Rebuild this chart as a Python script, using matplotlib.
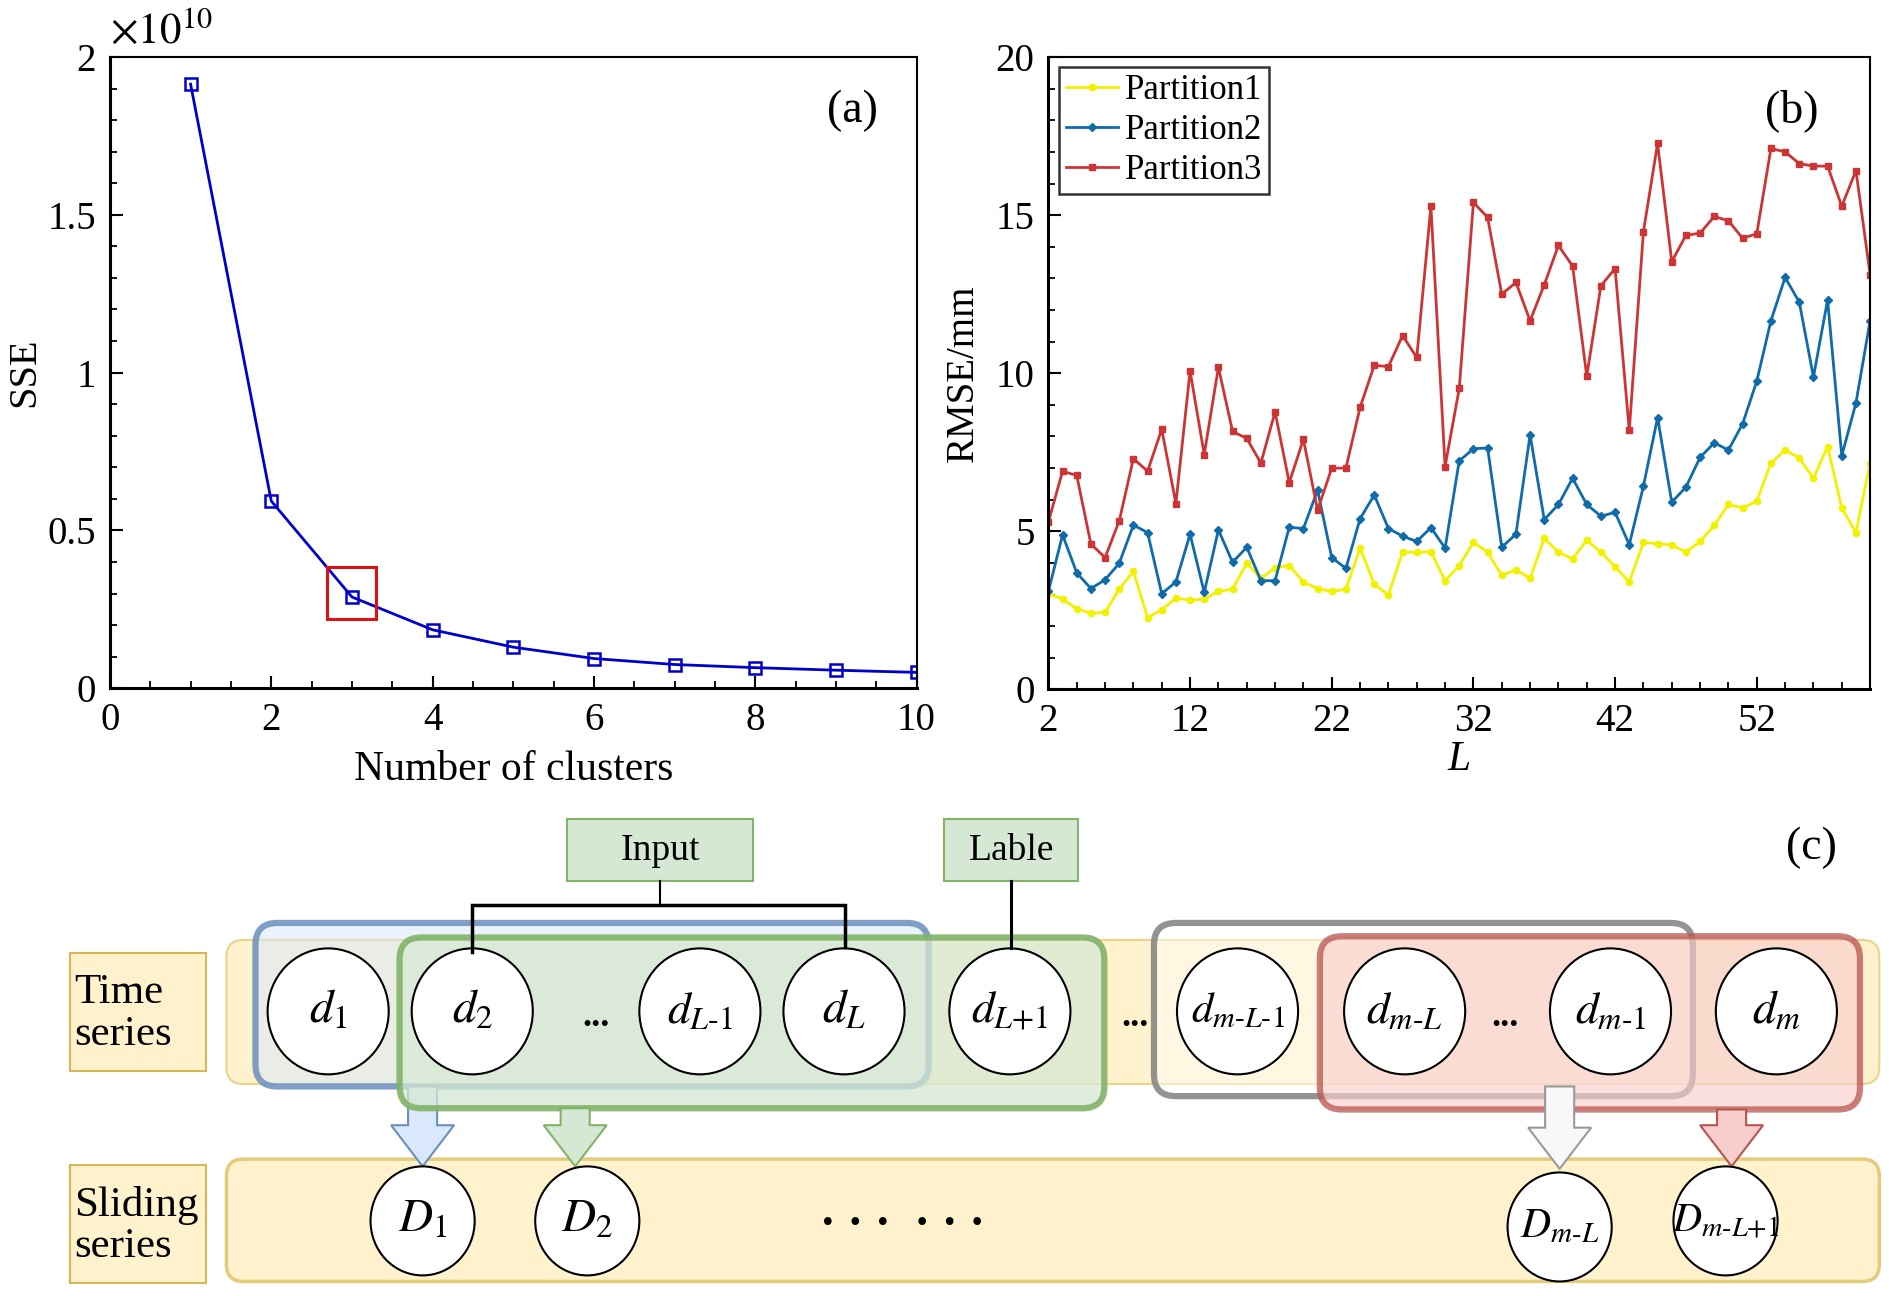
import matplotlib
matplotlib.use("Agg")
import matplotlib.pyplot as plt
from matplotlib.patches import Rectangle, FancyBboxPatch, Ellipse, Polygon
from matplotlib.ticker import MultipleLocator, FuncFormatter

plt.rcParams['font.family'] = ['Liberation Serif', 'DejaVu Serif']
plt.rcParams['mathtext.fontset'] = 'stix'

# ---------------- data ----------------
clusters = [1, 2, 3, 4, 5, 6, 7, 8, 9, 10]
sse = [1.914e10, 0.593e10, 0.289e10, 0.185e10, 0.130e10, 0.094e10,
       0.075e10, 0.065e10, 0.057e10, 0.050e10]
elbow_box = (2.69, 0.218e10, 3.30, 0.384e10)   # x0, y0, x1, y1

L = list(range(2, 61))
partition1 = [3.03, 2.86, 2.55, 2.41, 2.44, 3.17, 3.74, 2.27, 2.52, 2.89,
              2.82, 2.86, 3.10, 3.17, 3.99, 3.51, 3.85, 3.92, 3.40, 3.19,
              3.10, 3.17, 4.47, 3.33, 2.99, 4.34, 4.34, 4.36, 3.44, 3.92,
              4.65, 4.34, 3.61, 3.79, 3.51, 4.78, 4.34, 4.13, 4.72, 4.34,
              3.88, 3.40, 4.65, 4.61, 4.57, 4.34, 4.68, 5.19, 5.85, 5.74,
              5.96, 7.16, 7.57, 7.32, 6.68, 7.68, 5.74, 4.96, 7.16]
partition2 = [3.10, 4.89, 3.69, 3.19, 3.47, 3.99, 5.20, 4.96, 3.03, 3.40,
              4.91, 3.07, 5.05, 4.02, 4.50, 3.44, 3.44, 5.13, 5.09, 6.30,
              4.17, 3.83, 5.40, 6.15, 5.09, 4.85, 4.68, 5.12, 4.47, 7.23,
              7.61, 7.64, 4.50, 4.91, 8.05, 5.37, 5.85, 6.68, 5.85, 5.48,
              5.60, 4.58, 6.43, 8.60, 5.92, 6.40, 7.34, 7.80, 7.57, 8.40,
              9.75, 11.66, 13.03, 12.25, 9.88, 12.32, 7.39, 9.06, 11.66]
partition3 = [5.30, 6.90, 6.77, 4.60, 4.17, 5.33, 7.30, 6.90, 8.23, 5.88,
              10.07, 7.43, 10.19, 8.16, 7.94, 7.16, 8.78, 6.54, 7.91, 5.67,
              7.00, 7.00, 8.92, 10.25, 10.21, 11.19, 10.50, 15.28, 7.05, 9.52,
              15.40, 14.93, 12.50, 12.87, 11.66, 12.80, 14.04, 13.39, 9.91, 12.77,
              13.31, 8.19, 14.48, 17.27, 13.53, 14.36, 14.43, 14.96, 14.82, 14.27,
              14.41, 17.11, 17.00, 16.63, 16.55, 16.55, 15.28, 16.41, 13.12]
series_names = ['Partition1', 'Partition2', 'Partition3']

top_labels = [r'$d_{1}$', r'$d_{2}$', r'$d_{L\text{-}1}$', r'$d_{L}$', r'$d_{L\text{+}1}$',
              r'$d_{m\text{-}L\text{-}1}$', r'$d_{m\text{-}L}$', r'$d_{m\text{-}1}$', r'$d_{m}$']
bottom_labels = [r'$D_{1}$', r'$D_{2}$', r'$D_{m\text{-}L}$', r'$D_{m\text{-}L\text{+}1}$']

FS = 28

fig = plt.figure(figsize=(18.89, 12.96), dpi=100)

# ---------------- panel (c) diagram (drawn in a canvas-like axes) ----------------
axc = fig.add_axes([0, 0, 1, 1], zorder=0)
axc.set_xlim(0, 1560)
axc.set_ylim(1070, 0)
axc.axis('off')

def rbox(x, y, w, h, fc, ec, lw, alpha_fc=1.0, r=12, z=1):
    p = FancyBboxPatch((x, y), w, h, boxstyle=f"round,pad=0,rounding_size={r}",
                       fc=matplotlib.colors.to_rgba(fc, alpha_fc), ec=ec, lw=lw, zorder=z)
    axc.add_patch(p)

# label boxes
for (y0, txt) in [(787, 'Time\nseries'), (962, 'Sliding\nseries')]:
    axc.add_patch(Rectangle((58, y0), 112, 97, fc='#fff2cc', ec='#d6b656', lw=1.5, zorder=1))
    axc.text(61, y0 + 50, txt, fontsize=31, ha='left', va='center', linespacing=1.1, zorder=2)

# yellow bands
rbox(187, 776, 1365, 119, '#fff2cc', '#e8d48c', 1.5, r=14, z=1)
rbox(187, 957, 1365, 101, '#fff2cc', '#e2cc7a', 2.5, r=14, z=1)

# window boxes
rbox(211, 762, 556, 135, '#dae8fc', (0.42, 0.56, 0.75, 0.85), 4.5, alpha_fc=0.55, r=18, z=2)
rbox(330, 774, 582, 141, '#d5e8d4', (0.51, 0.70, 0.40, 0.9), 4.5, alpha_fc=0.75, r=18, z=3)
rbox(953, 762, 445, 143, '#ffffff', (0.5, 0.5, 0.5, 0.85), 4.5, alpha_fc=0.45, r=18, z=2)
rbox(1090, 773, 446, 143, '#f8cecc', (0.72, 0.33, 0.31, 0.75), 4.5, alpha_fc=0.65, r=18, z=3)

# top circles
top_x = [271, 390, 578, 697, 834, 1022, 1160, 1330, 1467]
top_fs = [34, 34, 33, 34, 33, 31, 33, 33, 34]
for x, lab, fs in zip(top_x, top_labels, top_fs):
    axc.add_patch(Ellipse((x, 835), 100, 104, fc='white', ec='black', lw=1.5, zorder=5))
    axc.text(x, 835, lab, fontsize=fs, ha='center', va='center', zorder=6)
for x in [492, 937, 1243]:
    axc.text(x, 840, '...', fontsize=26, fontweight='bold', ha='center', va='center', zorder=6)

# bracket for Input / Lable
axc.plot([390, 390, 698, 698], [786, 747, 747, 782], color='black', lw=2.5, zorder=6,
         solid_joinstyle='miter')
axc.plot([545, 545], [727, 747], color='black', lw=1.5, zorder=6)
axc.plot([835, 835], [727, 783], color='black', lw=2.2, zorder=6)
axc.add_patch(Rectangle((468, 676), 154, 51, fc='#d5e8d4', ec='#82b366', lw=1.5, zorder=4))
axc.text(545, 702, 'Input', fontsize=27, ha='center', va='center', zorder=6)
axc.add_patch(Rectangle((780, 676), 110, 51, fc='#d5e8d4', ec='#82b366', lw=1.5, zorder=4))
axc.text(835, 702, 'Lable', fontsize=27, ha='center', va='center', zorder=6)
axc.text(1496, 700, '(c)', fontsize=33, ha='center', va='center', zorder=6)

# block arrows
def block_arrow(x, y0, y1, fc, ec, sw=12, hw=26, hl=34, z=4):
    pts = [(x - sw, y0), (x + sw, y0), (x + sw, y1 - hl), (x + hw, y1 - hl),
           (x, y1), (x - hw, y1 - hl), (x - sw, y1 - hl)]
    axc.add_patch(Polygon(pts, closed=True, fc=fc, ec=ec, lw=1.5, zorder=z))

block_arrow(349, 897, 963, '#dae8fc', '#6c8ebf', z=2.5)
block_arrow(475, 915, 963, '#d5e8d4', '#82b366')
block_arrow(1288, 897, 965, '#f8f8f8', '#9a9a9a')
block_arrow(1430, 916, 963, '#f8cecc', '#b85450')

# bottom circles
bot_x = [349, 485, 1288, 1425]
bot_y = [1008, 1008, 1013, 1008]
bot_fs = [34, 34, 30, 29]
for x, y, lab, fs in zip(bot_x, bot_y, bottom_labels, bot_fs):
    axc.add_patch(Ellipse((x, y), 86, 90, fc='white', ec='black', lw=1.5, zorder=5))
    axc.text(x, y, lab, fontsize=fs, ha='center', va='center', zorder=6)
axc.text(745, 1012, '\u00b7 \u00b7 \u00b7  \u00b7 \u00b7 \u00b7', fontsize=34, fontweight='bold',
         ha='center', va='center', zorder=6)

# ---------------- panel (a) ----------------
axa = fig.add_axes([0.0582, 0.469, 0.427, 0.487], zorder=2)
axa.plot(clusters, sse, color='#0000CC', lw=2, marker='s', ms=8, mfc='none', mec='#0000CC', mew=1.8)
x0, y0, x1, y1 = elbow_box
axa.add_patch(Rectangle((x0, y0), x1 - x0, y1 - y0, fill=False, ec='#DD1111', lw=2.2, zorder=5))
axa.set_xlim(0, 10)
axa.set_ylim(0, 2e10)
axa.xaxis.set_major_locator(MultipleLocator(2))
axa.xaxis.set_minor_locator(MultipleLocator(0.5))
axa.yaxis.set_major_locator(MultipleLocator(0.5e10))
axa.yaxis.set_minor_locator(MultipleLocator(0.1e10))
axa.yaxis.set_major_formatter(FuncFormatter(lambda v, p: f"{v/1e10:g}"))
axa.text(0.0, 1.008, r'$\times 10^{10}$', transform=axa.transAxes, fontsize=31, ha='left', va='bottom')
axa.text(0.92, 0.915, '(a)', transform=axa.transAxes, fontsize=33, ha='center', va='center')
axa.set_xlabel('Number of clusters', fontsize=30, labelpad=8)
axa.set_ylabel('SSE', fontsize=29, labelpad=3)

# ---------------- panel (b) ----------------
axb = fig.add_axes([0.555, 0.468, 0.435, 0.488], zorder=2)
axb.plot(L, partition1, color='#F2F200', lw=2, marker='o', ms=4.5, label=series_names[0])
axb.plot(L, partition2, color='#0F6BAA', lw=2, marker='D', ms=4.5, label=series_names[1])
axb.plot(L, partition3, color='#CC3535', lw=2, marker='s', ms=4.5, label=series_names[2])
axb.set_xlim(2, 60)
axb.set_ylim(0, 20)
axb.set_xticks([2, 12, 22, 32, 42, 52])
axb.set_xticks(list(range(2, 61, 2)), minor=True)
axb.yaxis.set_major_locator(MultipleLocator(5))
axb.yaxis.set_minor_locator(MultipleLocator(1))
axb.set_xlabel('L', fontsize=30, fontstyle='italic', labelpad=0)
axb.set_ylabel('RMSE/mm', fontsize=28, labelpad=10)
axb.text(0.905, 0.915, '(b)', transform=axb.transAxes, fontsize=33, ha='center', va='center')
leg = axb.legend(loc='upper left', fontsize=25, frameon=True, fancybox=False, edgecolor='black',
                 borderpad=0.2, labelspacing=0.2, handlelength=1.5, handletextpad=0.2,
                 borderaxespad=0.3, bbox_to_anchor=(0.0, 1.0))
leg.get_frame().set_linewidth(1.8)

for ax in (axa, axb):
    ax.tick_params(which='both', direction='in', top=False, right=False, labelsize=FS, pad=10)
    ax.tick_params(which='major', length=9, width=1.5)
    ax.tick_params(which='minor', length=5, width=1.3)
    for s in ax.spines.values():
        s.set_linewidth(1.5)
    ax.spines['left'].set_linewidth(2.2)
    ax.spines['bottom'].set_linewidth(2.2)

fig.savefig('out.png', dpi=100)
